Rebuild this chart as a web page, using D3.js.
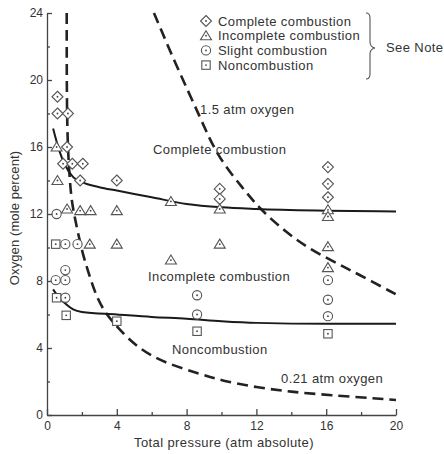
<!DOCTYPE html>
<html>
<head>
<meta charset="utf-8">
<script src="https://cdn.jsdelivr.net/npm/d3@7"></script>
<style>
  body { margin: 0; background: #fff; }
  svg { display: block; font-family: "Liberation Sans", Arial, sans-serif; }
  .axis text { font-size: 12px; fill: #333; }
  .axis path, .axis line { stroke: #444; stroke-width: 1.3; }
  .lbl { font-size: 13px; fill: #333; letter-spacing: 0.4px; }
</style>
</head>
<body>
<svg id="chart" width="444" height="454"></svg>
<script>
// [pressure atm, oxygen mole %]
const complete = [[0.6,19.0],[0.6,18.0],[1.2,18.0],[1.15,16.0],[0.92,15.0],[1.45,15.0],[2.05,15.0],
  [1.9,14.0],[4.0,14.0],[9.9,13.5],[9.9,12.9],[16.1,14.8],[16.1,13.8],[16.1,13.0]];
const incomplete = [[0.55,16.0],[0.6,14.0],[1.15,12.3],[1.9,12.2],[2.5,12.2],[4.0,12.2],[7.1,12.75],
  [9.9,12.3],[16.1,12.25],[16.1,11.85],[2.45,10.2],[4.0,10.2],[9.9,10.2],[7.1,9.25],[16.1,10.05],[16.1,8.8]];
const slight = [[0.55,12.0],[1.05,10.2],[1.75,10.2],[1.05,8.65],[0.5,8.05],[1.05,8.05],[1.05,7.0],
  [8.6,7.15],[8.6,6.0],[16.1,8.05],[16.1,6.88],[16.1,5.9]];
const noncomb = [[0.5,10.2],[0.55,7.0],[1.1,5.95],[4.0,5.6],[8.6,5.0],[16.1,4.85]];

const upperBoundary = [[0.35,17.1],[0.7,15.8],[1.0,15.0],[1.5,14.2],[2,13.9],[3,13.6],[4,13.4],[6,13.0],
  [8,12.6],[10,12.4],[12,12.3],[16,12.2],[20,12.15]];
const lowerBoundary = [[0.35,7.5],[0.7,7.0],[1,6.7],[1.5,6.3],[2,6.15],[4,6.0],[6,5.85],[8,5.75],
  [10,5.6],[12,5.5],[16,5.45],[20,5.45]];
const oxy021 = [[1.13,24],[1.13,20],[1.16,17],[1.24,15],[1.38,13],[1.55,12],[1.75,11],[2.05,9.6],
  [2.35,8.6],[2.75,7.3],[3.2,6.3],[4,5.25],[5.3,3.9],[6.9,3.05],[8.8,2.45],[10,2.05],[12,1.65],
  [14,1.38],[16,1.2],[20,0.9]];
const oxy15 = [[6.13,24],[7.43,20.8],[8.77,17.8],[9.72,15.5],[11.25,13.5],[12.2,12.3],[13.7,10.9],
  [15.07,9.9],[16.8,8.95],[17.67,8.5],[20,7.2]];

const xMajor = [0,4,8,12,16,20], xMinor = [2,6,10,14,18];
const yMajor = [0,4,8,12,16,20,24], yMinor = [2,6,10,14,18,22];

const legendItems = ["Complete combustion","Incomplete combustion","Slight combustion","Noncombustion"];

const svg = d3.select("#chart");
const x = d3.scaleLinear().domain([0,20]).range([47,396]);
const y = d3.scaleLinear().domain([0,24]).range([415,13]);

// axes
svg.append("g").attr("class","axis").attr("transform","translate(0,415)")
  .call(d3.axisBottom(x).tickValues(xMajor).tickSizeInner(-6).tickSizeOuter(0).tickPadding(6));
svg.append("g").attr("class","axis").attr("transform","translate(0,415)")
  .call(d3.axisBottom(x).tickValues(xMinor).tickSizeInner(-3).tickSizeOuter(0).tickFormat(""))
  .select(".domain").remove();
svg.append("g").attr("class","axis").attr("transform","translate(47,0)")
  .call(d3.axisLeft(y).tickValues(yMajor).tickSizeInner(-5).tickSizeOuter(0).tickPadding(4));
svg.append("g").attr("class","axis").attr("transform","translate(47,0)")
  .call(d3.axisLeft(y).tickValues(yMinor).tickSizeInner(-3).tickSizeOuter(0).tickFormat(""))
  .select(".domain").remove();

svg.append("text").attr("class","lbl").attr("x",224).attr("y",447).attr("text-anchor","middle")
  .text("Total pressure (atm absolute)");
svg.append("text").attr("class","lbl").attr("transform","translate(19,218) rotate(-90)")
  .attr("text-anchor","middle").style("letter-spacing","0.1px").text("Oxygen (mole percent)");

// curves
const line = d3.line().x(d => x(d[0])).y(d => y(d[1])).curve(d3.curveMonotoneX);
const smooth = d3.line().x(d => x(d[0])).y(d => y(d[1])).curve(d3.curveBasis);

svg.append("path").attr("d", smooth(oxy021)).attr("fill","none").attr("stroke","#222")
  .attr("stroke-width",2.6).attr("stroke-dasharray","11,6");
svg.append("path").attr("d", smooth(oxy15)).attr("fill","none").attr("stroke","#222")
  .attr("stroke-width",2.6).attr("stroke-dasharray","11,6");
svg.append("path").attr("d", line(upperBoundary)).attr("fill","none").attr("stroke","#1a1a1a").attr("stroke-width",2);
svg.append("path").attr("d", line(lowerBoundary)).attr("fill","none").attr("stroke","#1a1a1a").attr("stroke-width",2);

// symbols
function symbol(g, type) {
  if (type == 0) g.append("path").attr("d","M0,-5.5L5.5,0L0,5.5L-5.5,0Z");
  else if (type == 1) g.append("path").attr("d","M0,-5L5.5,4L-5.5,4Z");
  else if (type == 2) g.append("circle").attr("r",4.6);
  else g.append("rect").attr("x",-4.2).attr("y",-4.2).attr("width",8.4).attr("height",8.4);
  g.append("circle").attr("r",0.9).attr("fill","#444").attr("stroke","none");
}

[complete, incomplete, slight, noncomb].forEach((set, i) => {
  svg.append("g").selectAll("g").data(set).enter().append("g")
    .attr("transform", d => `translate(${x(d[0])},${y(d[1])})`)
    .attr("fill","#fff").attr("stroke","#555").attr("stroke-width",1.1)
    .each(function () { symbol(d3.select(this), i); });
});

// legend
const lg = svg.append("g");
legendItems.forEach((t, i) => {
  const g = lg.append("g").attr("transform", `translate(206,${21 + i * 14.7})`)
    .attr("fill","#fff").attr("stroke","#555").attr("stroke-width",1.1);
  symbol(g, i);
  lg.append("text").attr("class","lbl").attr("x",218).attr("y",25.5 + i * 14.7).text(t);
});
lg.append("path").attr("d","M366,13Q370,13 370,18L370,42Q370,47 375,48Q370,49 370,54L370,74Q370,79 366,79")
  .attr("fill","none").attr("stroke","#555").attr("stroke-width",1.1);
lg.append("text").attr("class","lbl").attr("x",386).attr("y",52).text("See Note");

// annotations
const notes = [["1.5 atm oxygen",200,114],["Complete combustion",153,154],["Incomplete combustion",148,281],
  ["Noncombustion",172,354],["0.21 atm oxygen",281,383]];
svg.selectAll(".note").data(notes).enter().append("text").attr("class","lbl")
  .attr("x", d => d[1]).attr("y", d => d[2]).text(d => d[0]);
</script>
</body>
</html>
